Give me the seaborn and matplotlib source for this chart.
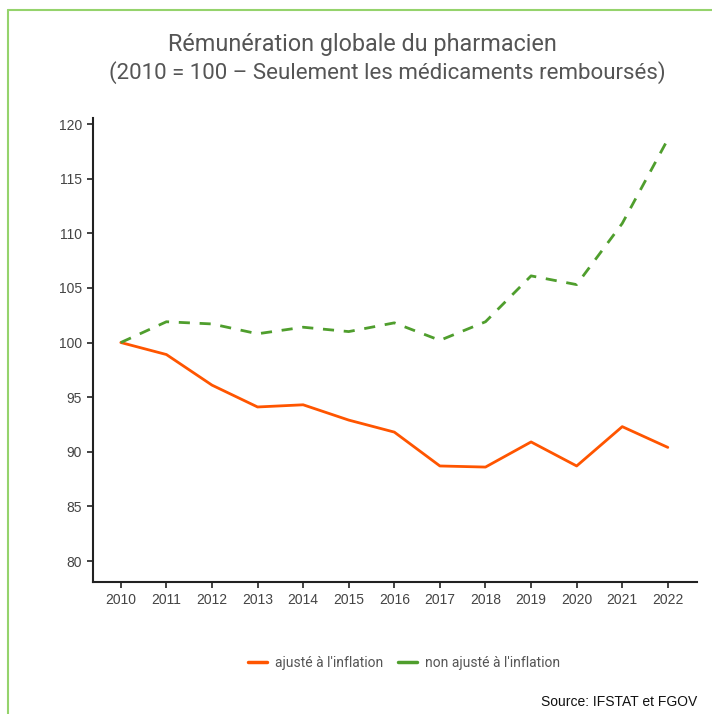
import matplotlib
matplotlib.use("Agg")
import matplotlib.pyplot as plt
import seaborn as sns
import pandas as pd
from matplotlib.lines import Line2D

years = list(range(2010, 2023))
ajuste = [100.0, 98.9, 96.1, 94.1, 94.3, 92.9, 91.8, 88.7, 88.6, 90.9, 88.7, 92.3, 90.4]
non_ajuste = [100.0, 101.9, 101.7, 100.8, 101.4, 101.0, 101.8, 100.2, 101.9, 106.1, 105.3, 110.9, 118.6]
series_labels = ["ajusté à l'inflation", "non ajusté à l'inflation"]
yticks = [80, 85, 90, 95, 100, 105, 110, 115, 120]

sns.set_style("white")
plt.rcParams['font.family'] = ['Liberation Sans', 'DejaVu Sans']

fig = plt.figure(figsize=(7.12, 7.14), dpi=100)
ax = fig.add_axes([93/712, 1-582/714, (697-93)/712, (582-118)/714])

df = pd.DataFrame({"year": years * 2,
                   "value": ajuste + non_ajuste,
                   "serie": [series_labels[0]] * len(years) + [series_labels[1]] * len(years)})

orange = "#ff5500"
green = "#4f9e2d"
sns.lineplot(data=df[df.serie == series_labels[0]], x="year", y="value", ax=ax,
             color=orange, linewidth=2.0, legend=False)
sns.lineplot(data=df[df.serie == series_labels[1]], x="year", y="value", ax=ax,
             color=green, linewidth=2.0, linestyle=(0, (4, 3.5)), legend=False)

ax.set_xlim(2009.39, 2022.64)
ax.set_ylim(78.08, 120.55)
ax.set_xticks(years)
ax.set_yticks(yticks)
ax.set_xlabel("")
ax.set_ylabel("")
for s in ["top", "right"]:
    ax.spines[s].set_visible(False)
for s in ["left", "bottom"]:
    ax.spines[s].set_color("#222222")
    ax.spines[s].set_linewidth(1.5)
ax.tick_params(axis="both", which="both", direction="out", length=4, width=1.2,
               color="#222222", labelsize=10, labelcolor="#444444", pad=4,
               left=True, bottom=True)

title_font = ['Roboto', 'DejaVu Sans']
fig.text(362/712, 1-45/714, "Rémunération globale du pharmacien", ha="center", va="center",
         fontsize=16.8, color="#555555", family=title_font)
fig.text(387/712, 1-73/714, "(2010 = 100 – Seulement les médicaments remboursés)", ha="center", va="center",
         fontsize=16.0, color="#555555", family=title_font)

handles = [Line2D([0], [0], color=orange, lw=2.5),
           Line2D([0], [0], color=green, lw=2.5)]
leg = fig.legend(handles, series_labels, loc="center", bbox_to_anchor=(404/712, 1-663/714),
                 ncol=2, frameon=False, handlelength=1.4, handletextpad=0.6, columnspacing=1.0,
                 prop={'family': ['Roboto', 'DejaVu Sans'], 'size': 10})
for t in leg.get_texts():
    t.set_color("#555555")

fig.text(697/712, 1-702/714, "Source: IFSTAT et FGOV", ha="right", va="center",
         fontsize=10, color="#111111")

# decorative border (left and top)
fig.add_artist(Line2D([8/712, 8/712], [0, 1-10/714], transform=fig.transFigure, color="#95d36c", lw=1.5))
fig.add_artist(Line2D([8/712, 1], [1-10/714, 1-10/714], transform=fig.transFigure, color="#95d36c", lw=1.5))

fig.savefig("out.png", dpi=100)
